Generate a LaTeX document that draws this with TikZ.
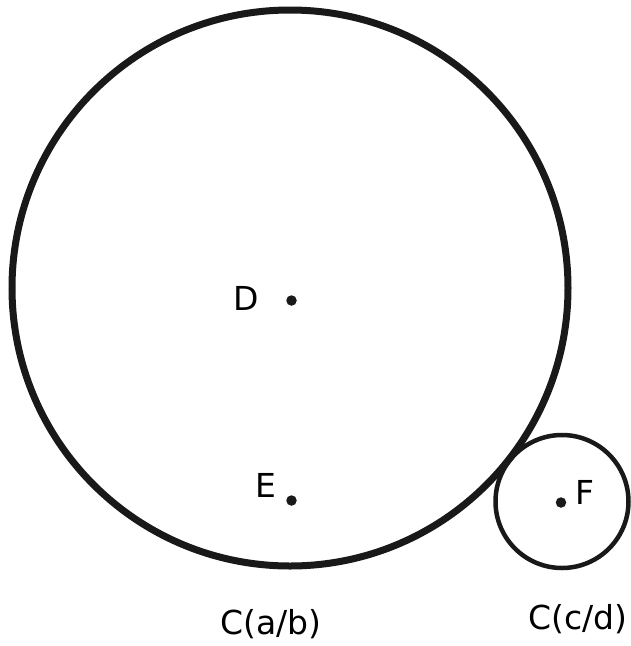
\documentclass[tikz,border=0pt]{standalone}
\usepackage{fontspec}
\setmainfont{DejaVu Sans}
\begin{document}
\begin{tikzpicture}[x=1pt,y=-1pt,
  dotpt/.style={circle,fill=black!90,inner sep=0pt,minimum size=10.5pt},
  lbl/.style={anchor=base,inner sep=0pt,font=\fontsize{33}{39}\selectfont},
  bigring/.style={draw=black!90,line width=7pt},
  smallring/.style={draw=black!90,line width=4.5pt}]
\useasboundingbox (0,0) rectangle (630,646);
\coordinate (c1) at (290,288);
\coordinate (c2) at (562,501.5);
\draw[bigring] (c1) circle [radius=278];
\draw[smallring] (c2) circle [radius=66.5];
\node[dotpt] (D) at (291.5,300.5) {};
\node[dotpt] (E) at (291.5,500.5) {};
\node[dotpt] (F) at (561,502.5) {};
\node[lbl] (lD) at (246.5,310) {D};
\node[lbl] (lE) at (265.5,497) {E};
\node[lbl] (lF) at (585.3,504) {F};
\node[lbl] (lab) at (271,634) {C(a/b)};
\node[lbl] (lcd) at (578,629.5) {C(c/d)};
\end{tikzpicture}
\end{document}
